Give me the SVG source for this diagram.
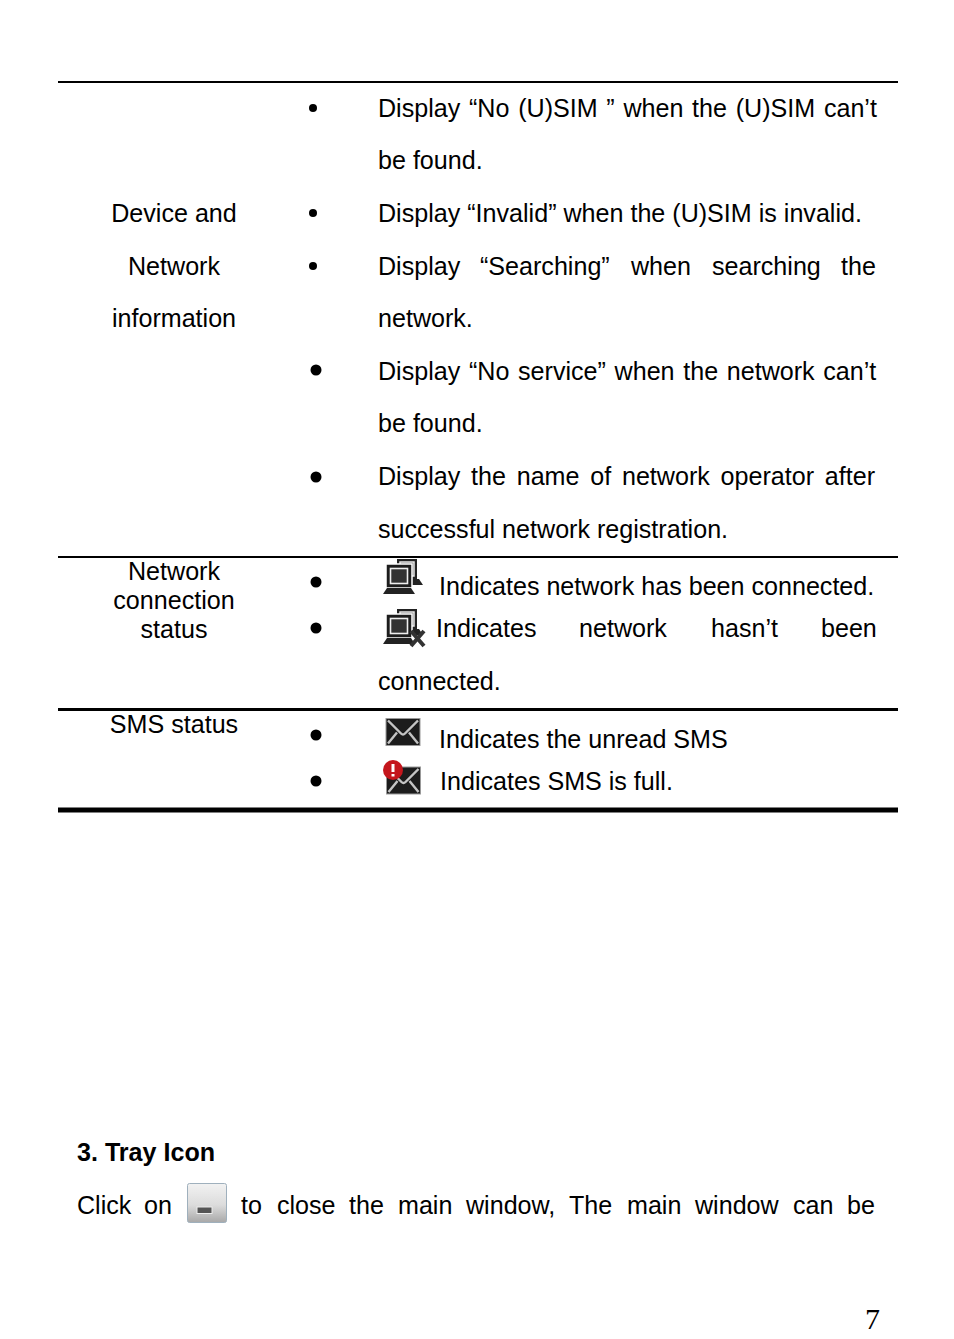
<svg xmlns="http://www.w3.org/2000/svg" width="954" height="1339" viewBox="0 0 954 1339">
<style>
text{font-family:"Liberation Sans",Arial,sans-serif;font-size:25.1px;fill:#000;white-space:pre}
.c{text-anchor:middle}
.base{fill:#222}
.env{fill:#1e1e1e;stroke:#999;stroke-width:1}
.flap{fill:none;stroke:#c4c4c4;stroke-width:2.4}
</style>
<defs>
<filter id="soft" x="-10%" y="-10%" width="120%" height="120%"><feGaussianBlur stdDeviation="0.45"/></filter>
<linearGradient id="btn" x1="0" y1="0" x2="0" y2="1"><stop offset="0" stop-color="#f2f2f2"/><stop offset=".55" stop-color="#dcdcdc"/><stop offset="1" stop-color="#a8a8a8"/></linearGradient>
<g id="computer">
<rect x="14" y="-6" width="20" height="20" fill="#222"/><rect x="17" y="-3" width="14" height="14" fill="#555" stroke="#e8e8e8" stroke-width="1.5"/>
<path d="M27 14h9l4 6H27z" class="base"/>
<rect x="3" y="-1" width="26" height="24" fill="#1c1c1c" stroke="#fff" stroke-width="1.5"/>
<rect x="7.500" y="3.500" width="17" height="15" fill="#333" stroke="#eee" stroke-width="1.6"/>
<path d="M4 23h24l4 6H0z" class="base"/>
</g>
<g id="envelope">
<rect x="0" y="0" width="34" height="27" class="env"/>
<path d="M2 2L15 15Q17 17 19 15L32 2M2 25L11 14M32 25L23 14" class="flap"/>
</g>
</defs>
<rect width="954" height="1339" fill="#fff"/>
<g id="rules" stroke="#000">
<line x1="58" x2="898" y1="82" y2="82" stroke-width="2"/>
<line x1="58" x2="898" y1="557" y2="557" stroke-width="2"/>
<line x1="58" x2="898" y1="709.500" y2="709.500" stroke-width="3"/>
<line x1="58" x2="898" y1="810" y2="810" stroke-width="5"/>
</g>
<g id="col1">
<text class="c" x="174" y="222">Device and</text>
<text class="c" x="174" y="275">Network</text>
<text class="c" x="174" y="327">information</text>
<text class="c" x="174" y="580">Network</text>
<text class="c" x="174" y="609">connection</text>
<text class="c" x="174" y="638">status</text>
<text class="c" x="174" y="733">SMS status</text>
</g>
<g id="bullets" fill="#000">
<circle cx="313" cy="108" r="4"/><circle cx="313" cy="213" r="4"/><circle cx="313" cy="266" r="4"/>
<circle cx="316" cy="370" r="5.500"/><circle cx="316" cy="477" r="5.500"/><circle cx="316" cy="582" r="5.500"/>
<circle cx="316" cy="628" r="5.500"/><circle cx="316" cy="735" r="5.500"/><circle cx="316" cy="781" r="5.500"/>
</g>
<g id="col2">
<text x="378" y="117" word-spacing="1.75">Display “No (U)SIM ” when the (U)SIM can’t</text>
<text x="378" y="169">be found.</text>
<text x="378" y="222">Display “Invalid” when the (U)SIM is invalid.</text>
<text y="275"><tspan x="378">Display</tspan><tspan x="480">“Searching”</tspan><tspan x="631">when</tspan><tspan x="712">searching</tspan><tspan x="841">the</tspan></text>
<text x="378" y="327">network.</text>
<text x="378" y="380" word-spacing="1.7">Display “No service” when the network can’t</text>
<text x="378" y="432">be found.</text>
<text x="378" y="485" word-spacing="3.8">Display the name of network operator after</text>
<text x="378" y="538">successful network registration.</text>
<text x="439" y="595">Indicates network has been connected.</text>
<text y="637"><tspan x="436">Indicates</tspan><tspan x="579">network</tspan><tspan x="711">hasn’t</tspan><tspan x="821">been</tspan></text>
<text x="378" y="690">connected.</text>
<text x="439" y="748">Indicates the unread SMS</text>
<text x="440" y="790">Indicates SMS is full.</text>
</g>
<g id="icons" filter="url(#soft)">
<use href="#computer" transform="translate(383 565)"/>
<g id="net-off"><use href="#computer" transform="translate(383 615)"/>
<path d="M411 631L424 646M424 631L411 646" stroke="#333" stroke-width="4"/></g>
<use href="#envelope" transform="translate(386 718.500)"/>
<g id="sms-full"><use href="#envelope" transform="translate(386.500 767)"/>
<circle cx="393" cy="770" r="10" fill="#c4161c"/><rect x="391.500" y="764" width="3" height="8" fill="#fff"/><rect x="391.500" y="774" width="3" height="2.500" fill="#fff"/></g>
</g>
<g id="tray">
<text x="77" y="1161" font-weight="bold">3. Tray Icon</text>
<text y="1214"><tspan x="77">Click</tspan><tspan x="144">on</tspan></text>
<g id="min-button"><rect x="187.500" y="1183.500" width="39" height="39" rx="2" fill="url(#btn)" stroke="#9fb0bd"/>
<rect x="197" y="1207" width="15" height="6.500" fill="#555" stroke="#eee"/></g>
<text y="1214"><tspan x="241">to</tspan><tspan x="277">close</tspan><tspan x="349">the</tspan><tspan x="398">main</tspan><tspan x="466">window,</tspan><tspan x="569">The</tspan><tspan x="627">main</tspan><tspan x="695">window</tspan><tspan x="793">can</tspan><tspan x="847">be</tspan></text>
<text x="865" y="1329" style="font-family:'Liberation Serif',serif;font-size:30px">7</text>
</g>
</svg>
